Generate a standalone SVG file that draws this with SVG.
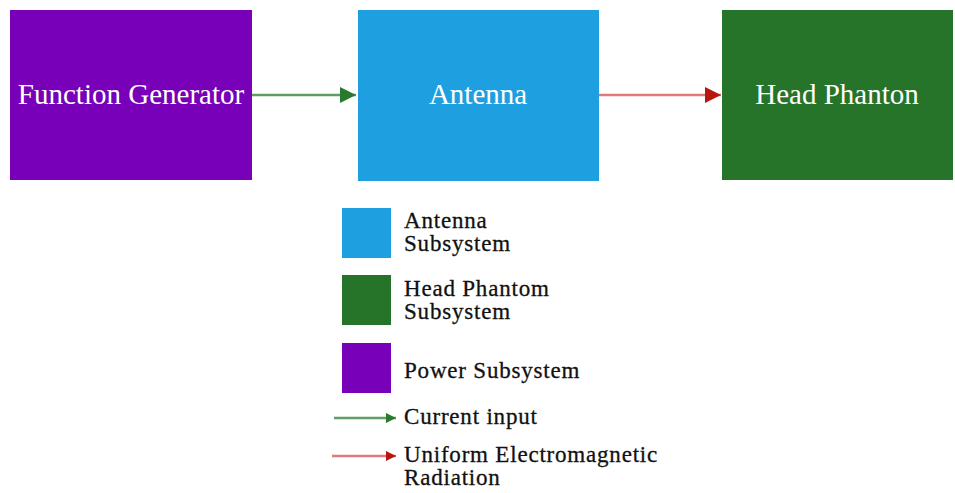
<svg xmlns="http://www.w3.org/2000/svg" width="955" height="493" viewBox="0 0 955 493">
  <defs>
    <marker id="headGreen" viewBox="0 0 10 10" refX="10" refY="5" markerWidth="10" markerHeight="10" markerUnits="userSpaceOnUse" orient="auto">
      <path d="M0,0 L10,5 L0,10 Z" fill="#2a7a2e"/>
    </marker>
    <marker id="headRed" viewBox="0 0 10 10" refX="10" refY="5" markerWidth="10" markerHeight="10" markerUnits="userSpaceOnUse" orient="auto">
      <path d="M0,0 L10,5 L0,10 Z" fill="#b81410"/>
    </marker>
    <marker id="headGreenBig" viewBox="0 0 10 10" refX="10" refY="5" markerWidth="17" markerHeight="16" markerUnits="userSpaceOnUse" orient="auto">
      <path d="M0,0 L10,5 L0,10 Z" fill="#2a7a2e"/>
    </marker>
    <marker id="headRedBig" viewBox="0 0 10 10" refX="10" refY="5" markerWidth="17" markerHeight="16" markerUnits="userSpaceOnUse" orient="auto">
      <path d="M0,0 L10,5 L0,10 Z" fill="#b81410"/>
    </marker>
  </defs>
  <style>
    .purple { fill: #7700b8; }
    .blue { fill: #1ea0e0; }
    .green { fill: #267429; }
    .label { font-family: "Liberation Serif", "Times New Roman", serif; font-size: 29px; fill: #ffffff; text-anchor: middle; }
    .legend { font-family: "Liberation Serif", "Times New Roman", serif; font-size: 23px; fill: #111111; stroke: #111111; stroke-width: 0.3; letter-spacing: 0.8px; }
    .wireGreen { stroke: #5f9d62; stroke-width: 2.5; fill: none; }
    .wireRed { stroke: #e07a78; stroke-width: 2.5; fill: none; }
  </style>
  <rect width="955" height="493" fill="#ffffff"/>

  <g id="function-generator">
    <rect class="purple" x="10" y="10" width="242" height="170"/>
    <text class="label" x="131" y="104">Function Generator</text>
  </g>
  <g id="antenna">
    <rect class="blue" x="358" y="10" width="241" height="171"/>
    <text class="label" x="478" y="104">Antenna</text>
  </g>
  <g id="head-phanton">
    <rect class="green" x="722" y="10" width="231" height="170"/>
    <text class="label" x="837" y="104">Head Phanton</text>
  </g>

  <g id="connectors">
    <line class="wireGreen" x1="252" y1="95" x2="356" y2="95" marker-end="url(#headGreenBig)"/>
    <line class="wireRed" x1="599" y1="95" x2="721" y2="95" marker-end="url(#headRedBig)"/>
  </g>

  <g id="legend">
    <rect class="blue" x="342" y="208" width="49" height="50"/>
    <text class="legend" x="404" y="228">Antenna</text>
    <text class="legend" x="404" y="251">Subsystem</text>

    <rect class="green" x="342" y="275" width="49" height="50"/>
    <text class="legend" x="404" y="296">Head Phantom</text>
    <text class="legend" x="404" y="319">Subsystem</text>

    <rect class="purple" x="342" y="343" width="49" height="50"/>
    <text class="legend" x="404" y="378">Power Subsystem</text>

    <line class="wireGreen" x1="334" y1="418" x2="396" y2="418" marker-end="url(#headGreen)"/>
    <text class="legend" x="404" y="424">Current input</text>

    <line class="wireRed" x1="332" y1="456" x2="396" y2="456" marker-end="url(#headRed)"/>
    <text class="legend" x="404" y="462">Uniform Electromagnetic</text>
    <text class="legend" x="404" y="485">Radiation</text>
  </g>
</svg>
